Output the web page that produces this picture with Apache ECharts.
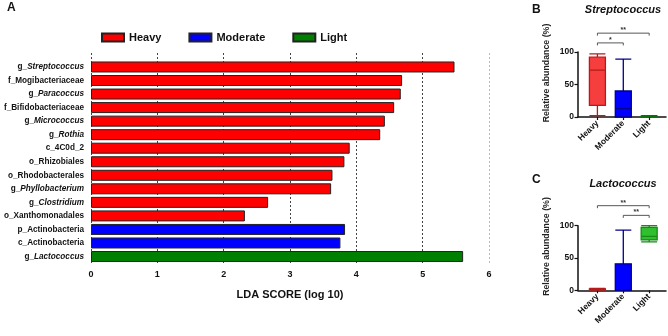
<!DOCTYPE html>
<html>
<head>
<meta charset="utf-8">
<script src="https://cdn.jsdelivr.net/npm/echarts@6/dist/echarts.min.js"></script>
<style>
html,body{margin:0;padding:0;background:#fff;}
#main{width:668px;height:336px;}
</style>
</head>
<body>
<div id="main"></div>
<script>
// LEfSe taxa, top to bottom
var taxa = ['g_Streptococcus','f_Mogibacteriaceae','g_Paracoccus','f_Bifidobacteriaceae','g_Micrococcus','g_Rothia','c_4C0d_2','o_Rhizobiales','o_Rhodobacterales','g_Phyllobacterium','g_Clostridium','o_Xanthomonadales','p_Actinobacteria','c_Actinobacteria','g_Lactococcus'];
var heavyLda    = [5.48,4.69,4.67,4.57,4.43,4.36,3.90,3.82,3.64,3.62,2.67,2.32,null,null,null];
var moderateLda = [null,null,null,null,null,null,null,null,null,null,null,null,3.83,3.76,null];
var lightLda    = [null,null,null,null,null,null,null,null,null,null,null,null,null,null,5.61];

var groups = ['Heavy','Moderate','Light'];
// [min, Q1, median, Q3, max]
var streptoBox = [[2,18,72,92,97],[0,0,13,40,89],[0.5,1,1,1.5,2]];
var lactoBox   = [[0.5,1,1.5,2,3],[0,0,0,41,93],[75,78,83.5,97.5,100]];
// [from group, to group, height]
var streptoSig = [[0,1,114],[0,2,129]];
var streptoSigText = ['*','**'];
var lactoSig = [[0,2,131],[1,2,116]];
var lactoSigText = ['**','**'];

var FONT = 'Liberation Sans, Arial, sans-serif';
var boxFill   = ['#f63e3e','#0000ff','#12a012'];
var boxBorder = ['#b81a1a','#00008b','#0a700a'];
var lactoFill = ['#f63e3e','#0000ff','#2fbf2f'];
var lactoBorder = ['#b81a1a','#00008b','#178a17'];

var chart = echarts.init(document.getElementById('main'));

function boxData(rows, fills, borders) {
    return rows.map(function (b, i) {
        return {value: [i].concat(b), itemStyle: {color: fills[i], borderColor: borders[i], borderWidth: 1.3}};
    });
}

function sigSeries(data, texts, xi) {
    return {
        type: 'custom',
        xAxisIndex: xi,
        yAxisIndex: xi,
        clip: false,
        silent: true,
        encode: {x: [0, 1], y: 2},
        data: data,
        renderItem: function (params, api) {
            var p1 = api.coord([api.value(0), api.value(2)]);
            var p2 = api.coord([api.value(1), api.value(2)]);
            return {
                type: 'group',
                children: [{
                    type: 'polyline',
                    shape: {points: [[p1[0], p1[1] + 2.5], [p1[0], p1[1]], [p2[0], p2[1]], [p2[0], p2[1] + 2.5]]},
                    style: {stroke: '#444', fill: null, lineWidth: 0.9}
                }, {
                    type: 'text',
                    x: (p1[0] + p2[0]) / 2,
                    y: p1[1] - 3,
                    style: {text: texts[params.dataIndex], align: 'center', verticalAlign: 'middle', font: 'bold 7px ' + FONT, fill: '#333'}
                }]
            };
        }
    };
}

function boxXAxis(gi) {
    return {
        gridIndex: gi, type: 'value', min: -0.75, max: 2.65,
        axisLine: {show: true, onZero: false, lineStyle: {color: '#111', width: 1.5}},
        axisTick: {show: true, customValues: [0, 1, 2], length: 3, lineStyle: {color: '#111', width: 1.2}},
        axisLabel: {customValues: [0, 1, 2], rotate: 45, margin: 5, fontSize: 8.5, fontWeight: 'bold', color: '#111', fontFamily: FONT,
            formatter: function (v) { return groups[Math.round(v)]; }},
        splitLine: {show: false}
    };
}
function boxYAxis(gi) {
    return {
        gridIndex: gi, type: 'value', min: 0, max: 100, interval: 50,
        axisLine: {show: true, onZero: false, lineStyle: {color: '#111', width: 1.5}},
        axisTick: {show: true, length: 3.5, lineStyle: {color: '#111', width: 1.2}},
        axisLabel: {margin: 4, fontSize: 8.5, fontWeight: 'bold', color: '#111', fontFamily: FONT},
        splitLine: {show: false}
    };
}

var option = {
    animation: false,
    backgroundColor: '#fff',
    textStyle: {fontFamily: FONT},
    legend: {
        data: groups,
        left: 96, top: 27,
        icon: 'rect',
        itemWidth: 22, itemHeight: 8, itemGap: 27,
        selectedMode: false,
        textStyle: {fontSize: 11, fontWeight: 'bold', color: '#111', fontFamily: FONT}
    },
    grid: [
        {left: 91, width: 398, top: 60.2, height: 203.1, outerBoundsMode: 'none'},
        {left: 91, width: 398, top: 53, height: 210, outerBoundsMode: 'none'},
        {left: 578, width: 88, top: 52, height: 65, outerBoundsMode: 'none'},
        {left: 578, width: 88, top: 225.7, height: 64.6, outerBoundsMode: 'none'}
    ],
    xAxis: [
        {gridIndex: 0, type: 'value', min: 0, max: 6, interval: 1,
            axisLine: {show: false}, axisTick: {show: false}, splitLine: {show: false},
            axisLabel: {margin: 7, fontSize: 9, fontWeight: 'bold', color: '#111', fontFamily: FONT},
            name: 'LDA SCORE (log 10)', nameLocation: 'middle', nameGap: 26,
            nameTextStyle: {fontSize: 11, fontWeight: 'bold', color: '#111', fontFamily: FONT}},
        {gridIndex: 1, type: 'value', min: 0, max: 6, interval: 1,
            axisLine: {show: false}, axisTick: {show: false}, axisLabel: {show: false},
            splitLine: {show: true, lineStyle: {type: [2, 2], width: 1, color: ['#444','#444','#444','#444','#444','#444','#bbb']}}},
        boxXAxis(2),
        boxXAxis(3)
    ],
    yAxis: [
        {gridIndex: 0, type: 'category', data: taxa, inverse: true,
            axisLine: {show: false}, axisTick: {show: false},
            axisLabel: {margin: 7, interval: 0,
                formatter: function (v) {
                    if (v.indexOf('g_') === 0) return '{n|g_}{i|' + v.slice(2) + '}';
                    return '{n|' + v + '}';
                },
                rich: {
                    n: {fontSize: 8.2, fontWeight: 'bold', color: '#111', fontFamily: FONT},
                    i: {fontSize: 8.2, fontWeight: 'bold', fontStyle: 'italic', color: '#111', fontFamily: FONT}
                }}},
        {gridIndex: 1, type: 'value', show: false},
        boxYAxis(2),
        boxYAxis(3)
    ],
    graphic: [
        {type: 'text', left: 7, top: 2, style: {text: 'A', font: 'bold 12px ' + FONT, fill: '#111'}},
        {type: 'text', left: 532, top: 4, style: {text: 'B', font: 'bold 12px ' + FONT, fill: '#111'}},
        {type: 'text', left: 532, top: 174, style: {text: 'C', font: 'bold 12px ' + FONT, fill: '#111'}},
        {type: 'text', x: 623, y: 10, style: {text: 'Streptococcus', align: 'center', verticalAlign: 'middle', font: 'italic bold 11px ' + FONT, fill: '#111'}},
        {type: 'text', x: 623, y: 184, style: {text: 'Lactococcus', align: 'center', verticalAlign: 'middle', font: 'italic bold 11px ' + FONT, fill: '#111'}},
        {type: 'text', x: 547, y: 73, rotation: Math.PI / 2, style: {text: 'Relative abundance (%)', align: 'center', verticalAlign: 'middle', font: 'bold 8.8px ' + FONT, fill: '#222'}},
        {type: 'text', x: 547, y: 246.5, rotation: Math.PI / 2, style: {text: 'Relative abundance (%)', align: 'center', verticalAlign: 'middle', font: 'bold 8.8px ' + FONT, fill: '#222'}}
    ],
    series: [
        {name: 'Heavy', type: 'bar', stack: 'lda', xAxisIndex: 0, yAxisIndex: 0, barWidth: 11, data: heavyLda,
            itemStyle: {color: '#ff0000', borderColor: '#222', borderWidth: 1}},
        {name: 'Moderate', type: 'bar', stack: 'lda', xAxisIndex: 0, yAxisIndex: 0, barWidth: 11, data: moderateLda,
            itemStyle: {color: '#0000ff', borderColor: '#222', borderWidth: 1}},
        {name: 'Light', type: 'bar', stack: 'lda', xAxisIndex: 0, yAxisIndex: 0, barWidth: 11, data: lightLda,
            itemStyle: {color: '#008000', borderColor: '#222', borderWidth: 1}},
        {name: 'Streptococcus', type: 'boxplot', xAxisIndex: 2, yAxisIndex: 2, boxWidth: [16, 16],
            data: boxData(streptoBox, boxFill, boxBorder)},
        sigSeries(streptoSig, streptoSigText, 2),
        {name: 'Lactococcus', type: 'boxplot', xAxisIndex: 3, yAxisIndex: 3, boxWidth: [16, 16],
            data: boxData(lactoBox, lactoFill, lactoBorder)},
        sigSeries(lactoSig, lactoSigText, 3)
    ]
};
chart.setOption(option);
</script>
</body>
</html>
